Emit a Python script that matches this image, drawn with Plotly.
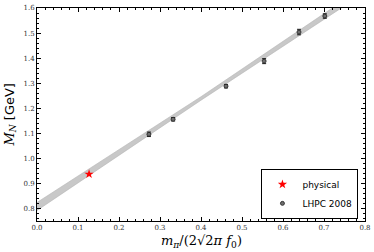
import plotly.graph_objects as go

# LHPC 2008 data
lhpc_x = [0.273, 0.332, 0.461, 0.554, 0.639, 0.702]
lhpc_y = [1.096, 1.156, 1.288, 1.388, 1.504, 1.568]
lhpc_err = [0.009, 0.007, 0.007, 0.010, 0.011, 0.009]

# physical point
phys_x = [0.127]
phys_y = [0.937]

# fit band
band_x = [0.0, 0.4, 0.8]
band_lo = [0.792, 1.232, 1.662]
band_hi = [0.824, 1.246, 1.688]

x_title = "<i>m</i><sub><i>π</i></sub>/(2√2<i>π</i> <i>f</i><sub>0</sub>)"
y_title = "<i style='font-family:DejaVu Serif'>M<sub>N</sub></i> [GeV]"

serif = "DejaVu Serif"
fig = go.Figure()

fig.add_trace(go.Scatter(
    x=band_x + band_x[::-1], y=band_hi + band_lo[::-1],
    fill="toself", fillcolor="rgb(200,200,200)", mode="lines",
    line=dict(color="rgb(180,180,180)", width=0.6), showlegend=False, hoverinfo="skip"))

fig.add_trace(go.Scatter(
    x=phys_x, y=phys_y, mode="markers", name="physical",
    marker=dict(symbol="star", size=7, color="red", line=dict(width=0))))

fig.add_trace(go.Scatter(
    x=lhpc_x, y=lhpc_y, mode="markers", name="LHPC 2008",
    marker=dict(symbol="circle", size=4, color="rgb(110,110,110)",
                line=dict(color="rgb(30,30,30)", width=0.8)),
    error_y=dict(type="data", array=lhpc_err, color="rgb(30,30,30)", thickness=1, width=2)))

axis_common = dict(showline=True, linecolor="black", linewidth=1, mirror="ticks",
                   ticks="inside", ticklen=4, tickcolor="black", showgrid=False, zeroline=False,
                   tickfont=dict(family=serif, size=7, color="#333"), automargin=False,
                   ticklabeloverflow="allow")

fig.update_xaxes(range=[0, 0.8], dtick=0.1, tickformat=".1f",
                 minor=dict(ticks="inside", ticklen=2, dtick=0.02, tickcolor="black"),
                 **axis_common)
fig.update_yaxes(range=[0.75, 1.6], dtick=0.1, tickformat=".1f",
                 minor=dict(ticks="inside", ticklen=2, dtick=0.02, tickcolor="black"),
                 **axis_common)

fig.add_annotation(text=x_title, xref="paper", yref="paper", x=0.5, y=-0.095,
                   xanchor="center", yanchor="middle", showarrow=False,
                   font=dict(family=serif, size=13, color="black"))
fig.add_annotation(text=y_title, xref="paper", yref="paper", x=-0.05, y=0.5,
                   xanchor="right", yanchor="middle", textangle=-90, showarrow=False,
                   font=dict(family="DejaVu Sans", size=13, color="black"))

fig.update_layout(
    width=374, height=252, margin=dict(l=37, r=9, t=8, b=31),
    paper_bgcolor="white", plot_bgcolor="white",
    legend=dict(x=0.98, y=0.01, xanchor="right", yanchor="bottom",
                bgcolor="white", bordercolor="black", borderwidth=1,
                font=dict(family="DejaVu Sans", size=9, color="black"),
                itemwidth=30, tracegroupgap=2),
)

fig.write_html("out.html", post_script="document.body.style.margin='0';",
               config={"displayModeBar": False})
